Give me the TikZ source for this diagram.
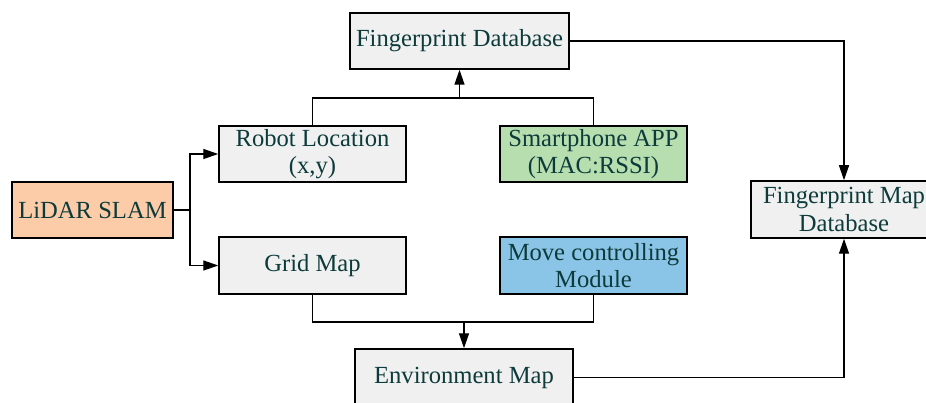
\documentclass[tikz,border=0pt]{standalone}
\usepackage{fontspec}
\setmainfont{Liberation Serif}
\usetikzlibrary{arrows.meta}
\definecolor{txt}{HTML}{0D3B3B}
\definecolor{boxgray}{HTML}{F0F0F0}
\definecolor{peach}{HTML}{FCCBA7}
\definecolor{green1}{HTML}{B7DEAF}
\definecolor{blue1}{HTML}{8AC4E6}
\begin{document}
\begin{tikzpicture}[x=1pt,y=-1pt,
  box/.style={draw=black,line width=1.5pt,fill=boxgray,text=txt,align=center,
    inner sep=0pt,font=\fontsize{24.6}{27.5}\selectfont},
  conn/.style={line width=1.4pt,draw=black},
  arr/.style={conn,-{Triangle[length=15pt,width=10pt]}}]
\useasboundingbox (0,0) rectangle (926,403);
\node[box,minimum width=219pt,minimum height=56pt] (fdb) at (459.5,41) {Fingerprint Database};
\node[box,minimum width=187pt,minimum height=56pt] (robot) at (312.5,154) {Robot Location\\(x,y)};
\node[box,fill=green1,minimum width=187pt,minimum height=56pt] (smart) at (593.5,154) {Smartphone APP\\(MAC:RSSI)};
\node[box,fill=peach,minimum width=161pt,minimum height=56pt] (lidar) at (92.5,210) {LiDAR SLAM};
\node[box,minimum width=187pt,minimum height=57pt] (grid) at (312.5,265.5) {Grid Map};
\node[box,fill=blue1,minimum width=187pt,minimum height=57pt] (move) at (593.5,265.5) {Move controlling\\Module};
\node[box,minimum width=186pt,minimum height=57pt] (fmd) at (844,209.5) {Fingerprint Map\\Database};
\node[box,minimum width=218pt,minimum height=57pt] (env) at (464,377.5) {Environment Map};
\coordinate (j1) at (459.5,98);
\coordinate (j2) at (464,322);
\coordinate (j3) at (190,210);
\draw[conn] (lidar.east) -- (j3);
\draw[arr] (j3) |- (robot.west);
\draw[arr] (j3) |- (grid.west);
\draw[conn] (robot.north) |- (j1) -| (smart.north);
\draw[arr] (j1) -- (fdb.south);
\draw[arr] (fdb.east) -| (fmd.north);
\draw[conn] (grid.south) |- (j2) -| (move.south);
\draw[arr] (j2) -- (env.north);
\draw[arr] (env.east) -| (fmd.south);
\end{tikzpicture}
\end{document}
